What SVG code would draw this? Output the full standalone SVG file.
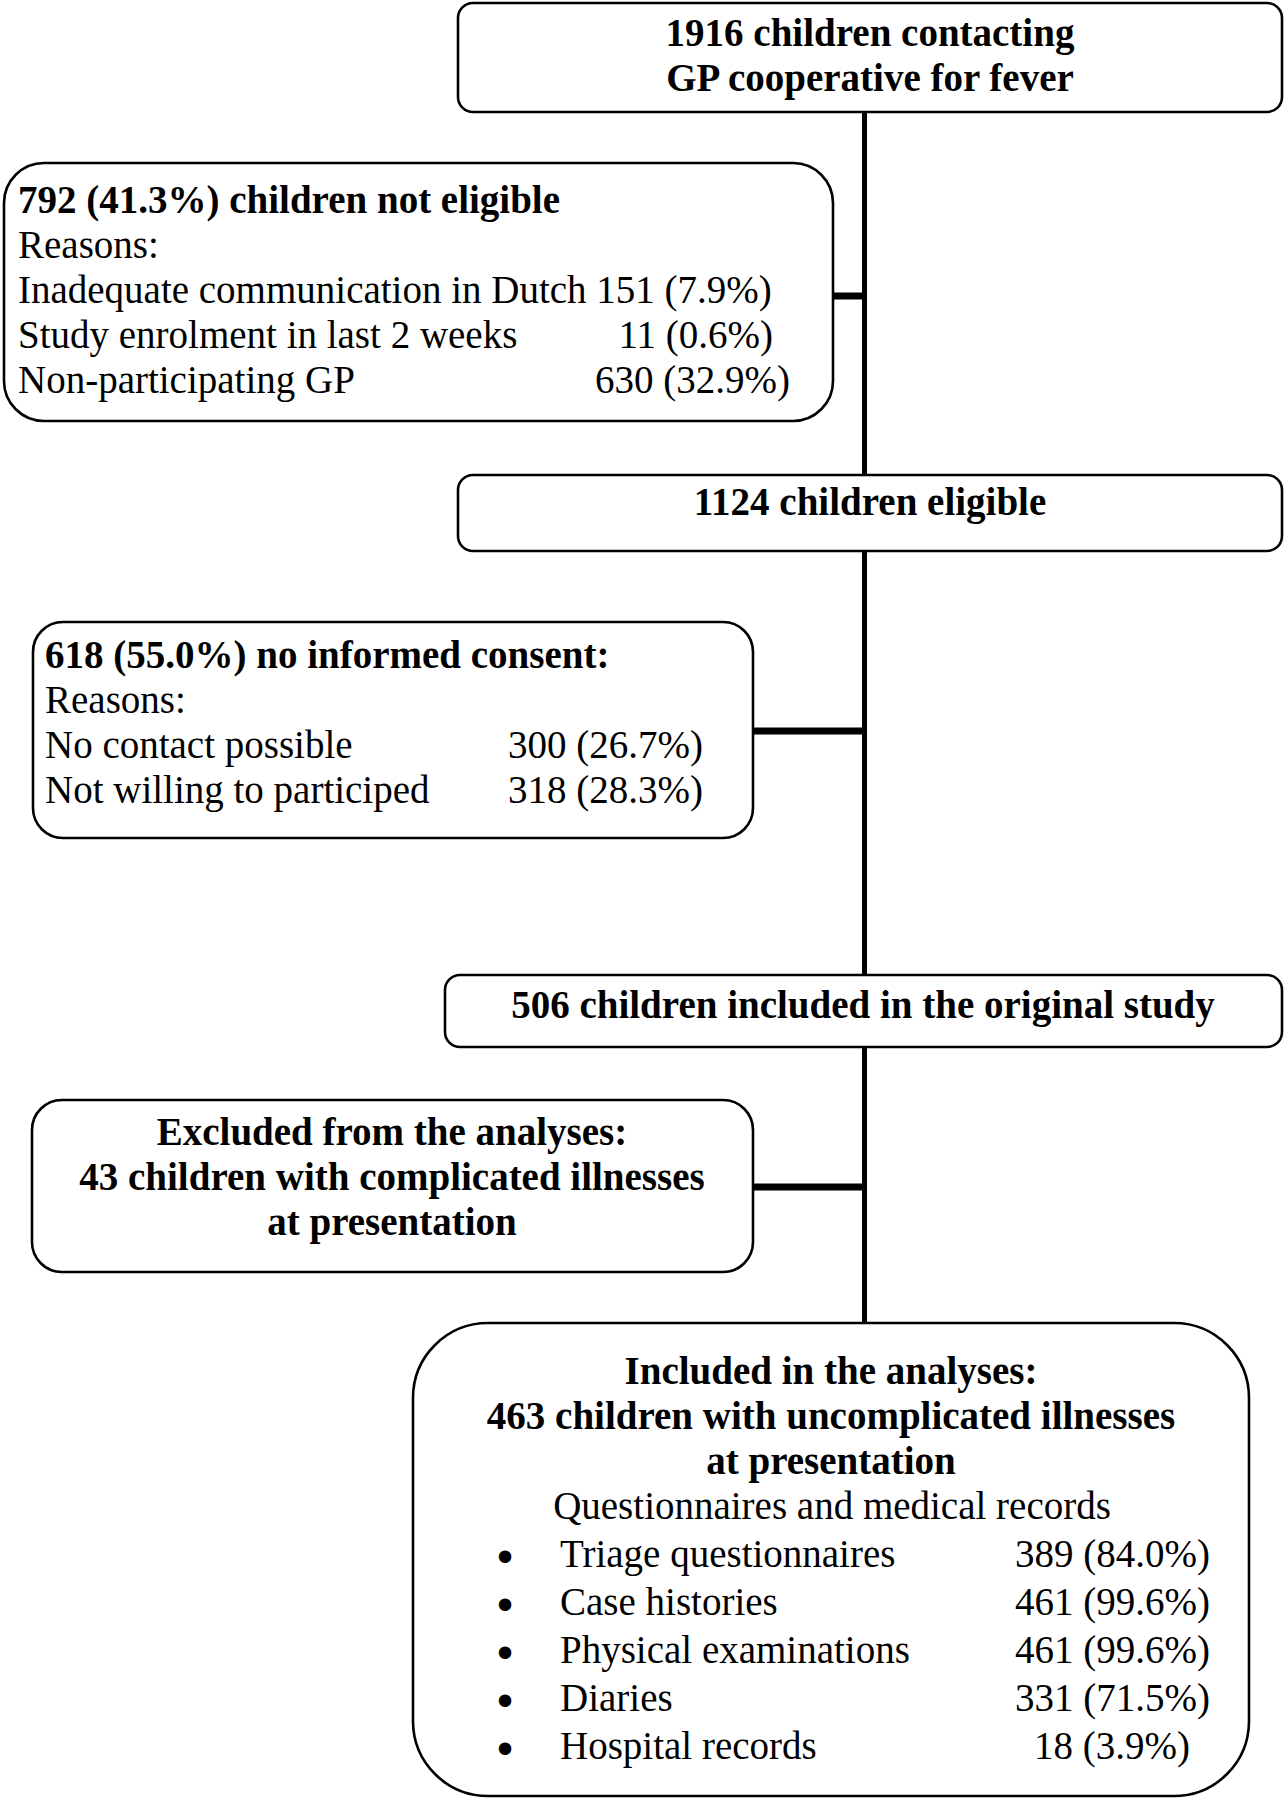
<svg xmlns="http://www.w3.org/2000/svg" width="1286" height="1800" viewBox="0 0 1286 1800">
<style>
  .box { fill: #ffffff; stroke: #000000; stroke-width: 2.6; }
  .t { font-family: "Liberation Serif", "Times New Roman", serif; font-size: 39px; fill: #000000; }
  .b { font-weight: bold; }
  .c { text-anchor: middle; }
  .e { text-anchor: end; }
  .trunk { stroke: #000000; stroke-width: 5; fill: none; }
  .branch { stroke: #000000; stroke-width: 7; fill: none; }
  .bul { font-family: "Liberation Serif", "Times New Roman", serif; font-size: 46px; font-weight: bold; fill: #000000; text-anchor: middle; }
</style>
<rect width="1286" height="1800" fill="#ffffff"/>
<g id="connectors">
  <line class="trunk" x1="864.5" y1="112" x2="864.5" y2="475"/>
  <line class="trunk" x1="864.5" y1="551" x2="864.5" y2="975"/>
  <line class="trunk" x1="864.5" y1="1047" x2="864.5" y2="1323"/>
  <line class="branch" x1="833" y1="296" x2="864" y2="296"/>
  <line class="branch" x1="753" y1="731" x2="864" y2="731"/>
  <line class="branch" x1="753" y1="1187" x2="864" y2="1187"/>
</g>
<g id="node-contacting">
  <rect class="box" x="458" y="3" width="824" height="109" rx="15"/>
  <text class="t b c" x="870" y="46">1916 children contacting</text>
  <text class="t b c" x="870" y="91">GP cooperative for fever</text>
</g>
<g id="node-not-eligible">
  <rect class="box" x="4" y="163" width="829" height="258" rx="40"/>
  <text class="t b" x="18" y="213">792 (41.3%) children not eligible</text>
  <text class="t" x="18" y="258">Reasons:</text>
  <text class="t" x="18" y="303">Inadequate communication in Dutch 151 (7.9%)</text>
  <text class="t" x="18" y="348">Study enrolment in last 2 weeks</text>
  <text class="t e" x="773" y="348">11 (0.6%)</text>
  <text class="t" x="18" y="393">Non-participating GP</text>
  <text class="t e" x="790" y="393">630 (32.9%)</text>
</g>
<g id="node-eligible">
  <rect class="box" x="458" y="475" width="824" height="76" rx="15"/>
  <text class="t b c" x="870" y="515">1124 children eligible</text>
</g>
<g id="node-no-consent">
  <rect class="box" x="33" y="622" width="720" height="216" rx="30"/>
  <text class="t b" x="45" y="668">618 (55.0%) no informed consent:</text>
  <text class="t" x="45" y="713">Reasons:</text>
  <text class="t" x="45" y="758">No contact possible</text>
  <text class="t e" x="703" y="758">300 (26.7%)</text>
  <text class="t" x="45" y="803">Not willing to participed</text>
  <text class="t e" x="703" y="803">318 (28.3%)</text>
</g>
<g id="node-included-original">
  <rect class="box" x="445" y="975" width="837" height="72" rx="15"/>
  <text class="t b c" x="863" y="1018">506 children included in the original study</text>
</g>
<g id="node-excluded">
  <rect class="box" x="32" y="1100" width="721" height="172" rx="30"/>
  <text class="t b c" x="392" y="1145">Excluded from the analyses:</text>
  <text class="t b c" x="392" y="1190">43 children with complicated illnesses</text>
  <text class="t b c" x="392" y="1235">at presentation</text>
</g>
<g id="node-included-analyses">
  <rect class="box" x="413" y="1323" width="836" height="473" rx="75"/>
  <text class="t b c" x="831" y="1384">Included in the analyses:</text>
  <text class="t b c" x="831" y="1429">463 children with uncomplicated illnesses</text>
  <text class="t b c" x="831" y="1474">at presentation</text>
  <text class="t c" x="832" y="1519">Questionnaires and medical records</text>
  <text class="bul" x="505" y="1572">•</text>
  <text class="t" x="560" y="1567">Triage questionnaires</text>
  <text class="t e" x="1210" y="1567">389 (84.0%)</text>
  <text class="bul" x="505" y="1620">•</text>
  <text class="t" x="560" y="1615">Case histories</text>
  <text class="t e" x="1210" y="1615">461 (99.6%)</text>
  <text class="bul" x="505" y="1668">•</text>
  <text class="t" x="560" y="1663">Physical examinations</text>
  <text class="t e" x="1210" y="1663">461 (99.6%)</text>
  <text class="bul" x="505" y="1716">•</text>
  <text class="t" x="560" y="1711">Diaries</text>
  <text class="t e" x="1210" y="1711">331 (71.5%)</text>
  <text class="bul" x="505" y="1764">•</text>
  <text class="t" x="560" y="1759">Hospital records</text>
  <text class="t e" x="1190" y="1759">18 (3.9%)</text>
</g>
</svg>
